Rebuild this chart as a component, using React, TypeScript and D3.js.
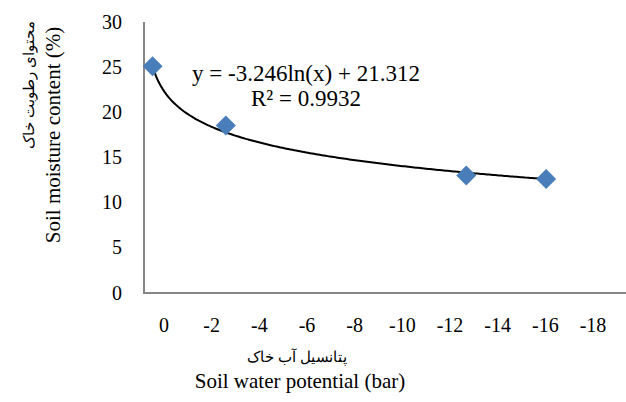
import React from 'react';
import * as d3 from 'd3';

// soil water potential magnitude (bar) and moisture content (%)
const suction = [0.31, 2.97, 11.7, 14.6];
const moisture = [25.1, 18.55, 13.0, 12.63];
const yTicks = [0, 5, 10, 15, 20, 25, 30];
const xTickLabels = [0, -2, -4, -6, -8, -10, -12, -14, -16, -18];

// logarithmic trendline coefficients
const trendA = -3.246;
const trendB = 21.312;

const W = 626;
const H = 402;
const FONT = 'Times New Roman';

const x = d3.scaleLinear().domain([0, 17.5]).range([144, 626]);
const y = d3.scaleLinear().domain([0, 30]).range([293, 22]);
// label positions of the axis text
const xl = d3.scaleLinear().domain([0, -18]).range([164, 593]);

const Label: React.FC<{ x?: number; y?: number; size?: number; anchor?: string; transform?: string; dy?: string; children: React.ReactNode }> = ({
  x: lx,
  y: ly,
  size = 20,
  anchor = 'middle',
  transform,
  dy,
  children,
}) => (
  <text x={lx} y={ly} dy={dy} transform={transform} textAnchor={anchor} fontSize={size} style={{ fontFamily: FONT }}>
    {children}
  </text>
);

const App: React.FC = () => {
  const curve = d3.range(0, 201).map((i) => {
    const t = suction[0] + ((suction[suction.length - 1] - suction[0]) * i) / 200;
    return [t, trendA * Math.log(t) + trendB] as [number, number];
  });
  const line = d3
    .line<[number, number]>()
    .x((d) => x(d[0]))
    .y((d) => y(d[1]));
  const diamond = d3.symbol().type(d3.symbolSquare).size(200)();
  const axisColor = '#868686';

  return (
    <svg width={W} height={H} style={{ position: 'absolute', left: 0, top: 0 }}>
      <rect width={W} height={H} fill="#fff" />
      {/* axes */}
      <line x1={x(0)} x2={x(0)} y1={y(30)} y2={y(0) + 1} stroke={axisColor} strokeWidth={2} />
      <line x1={x(0) - 1} x2={x(17.5)} y1={y(0)} y2={y(0)} stroke={axisColor} strokeWidth={2} />

      {yTicks.map((t) => (
        <Label key={t} x={x(0) - 22} y={y(t)} dy="0.33em" anchor="end">
          {t}
        </Label>
      ))}
      {xTickLabels.map((t) => (
        <Label key={t} x={xl(t)} y={y(0) + 39}>
          {t}
        </Label>
      ))}

      {/* trendline */}
      <path d={line(curve) || ''} fill="none" stroke="#000" strokeWidth={2} />

      {/* points */}
      {suction.map((s, i) => (
        <path
          key={i}
          d={diamond || ''}
          transform={`translate(${x(s)},${y(moisture[i])}) rotate(45)`}
          fill="#4a7ebb"
        />
      ))}

      {/* equation */}
      <Label x={306} y={81} size={23}>y = -3.246ln(x) + 21.312</Label>
      <Label x={306} y={106} size={23}>R² = 0.9932</Label>

      {/* y title */}
      <Label transform="translate(60,135) rotate(-90)" size={21}>Soil moisture content (%)</Label>
      <Label transform="translate(34,85) rotate(-90)" size={15}>
        محتوای رطوبت خاک
      </Label>

      {/* x title */}
      <Label x={297} y={362} size={15}>
        پتانسیل آب خاک
      </Label>
      <Label x={300} y={388} size={21}>Soil water potential (bar)</Label>
    </svg>
  );
};

export default App;
